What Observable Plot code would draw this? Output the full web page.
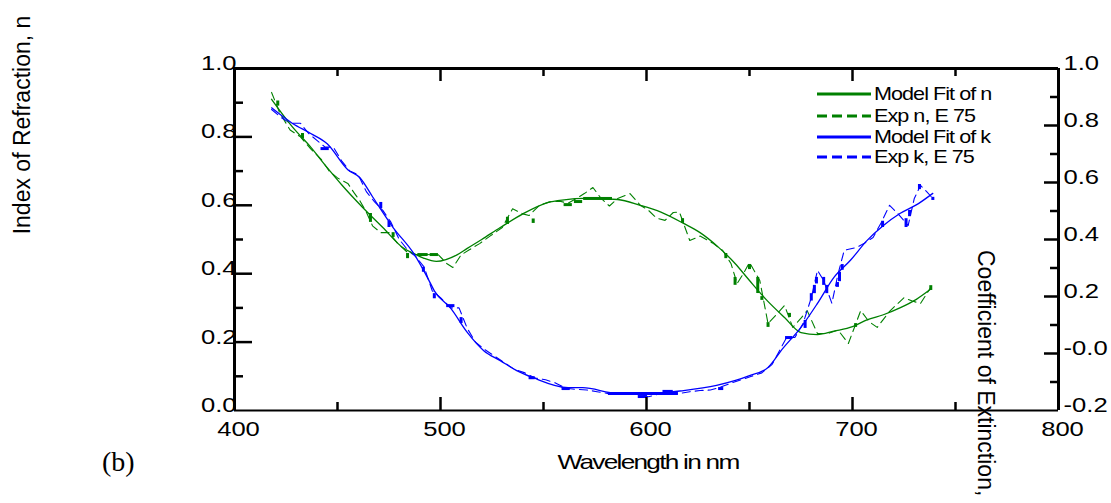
<!DOCTYPE html>
<html><head><meta charset="utf-8">
<script src="https://cdn.jsdelivr.net/npm/d3@7"></script>
<script src="https://cdn.jsdelivr.net/npm/@observablehq/plot@0.6"></script>
<style>
html,body{margin:0;padding:0;background:#fff;}
#chart{position:relative;width:1111px;height:503px;overflow:hidden;}
svg{display:block}
</style></head><body><div id="chart"></div>
<script>
// ---- Model fit of n (left axis) ----
const wlFitN = [418,428,437,445,452,462,472,482,487,492,498,508,513,520,529,540,552,560,570,586,597,607,618,626,635,643,650,658,667,675,683,691,700,707,715,723,731,738];
const nFit   = [0.91,0.83,0.77,0.71,0.66,0.595,0.535,0.475,0.459,0.445,0.436,0.455,0.474,0.50,0.535,0.575,0.608,0.616,0.62,0.617,0.60,0.58,0.547,0.52,0.477,0.43,0.38,0.325,0.272,0.228,0.222,0.232,0.245,0.265,0.28,0.30,0.325,0.355];
// ---- Experimental n, E75 ----
const wlExpN = [418,422,427,432,437,442,446,450,455,458,461,464,467,471,475,479,484,488,493,499,503,506,510,514,519,524,530,535,540,543,548,553,558,562,566,570,574,578,582,586,592,597,601,605,609,613,616,621,626,632,637,641,644,647,650,655,659,663,667,671,675,678,683,688,693,698,704,708,712,718,725,729,733,738];
const nExp   = [0.93,0.87,0.82,0.80,0.765,0.735,0.70,0.68,0.664,0.637,0.612,0.58,0.54,0.52,0.52,0.49,0.462,0.456,0.456,0.455,0.43,0.418,0.455,0.47,0.488,0.51,0.535,0.59,0.575,0.57,0.60,0.61,0.612,0.606,0.62,0.635,0.652,0.62,0.598,0.62,0.634,0.60,0.585,0.562,0.556,0.579,0.58,0.497,0.51,0.49,0.468,0.43,0.371,0.40,0.433,0.38,0.254,0.28,0.307,0.243,0.27,0.292,0.225,0.225,0.235,0.196,0.292,0.26,0.243,0.29,0.33,0.32,0.313,0.36];
// ---- Model fit of k (right axis) ----
const wlFitK = [418,428,437,445,455,461,467,477,487,494,497,505,513,521,529,537,545,562,569,586,602,618,634,650,659,666,675,683,691,699,707,715,723,732,739];
const kFit   = [0.862,0.808,0.772,0.736,0.645,0.616,0.55,0.442,0.351,0.262,0.22,0.158,0.074,0.01,-0.025,-0.06,-0.085,-0.12,-0.12,-0.14,-0.14,-0.13,-0.112,-0.078,-0.049,0.016,0.092,0.176,0.267,0.327,0.396,0.449,0.491,0.526,0.562];
// ---- Experimental k, E75 ----
const wlExpK = [418,423,427,432,436,440,444,448,452,456,460,464,468,472,476,480,484,488,492,496,500,505,509,513,517,521,526,531,536,541,546,551,556,561,566,571,576,581,586,591,596,601,606,611,616,621,626,631,636,641,646,651,656,661,665,668,672,676,680,683,686,690,693,696,702,706,710,714,718,722,727,730,733,736,739];
const kExp   = [0.856,0.826,0.808,0.808,0.772,0.748,0.724,0.724,0.676,0.64,0.628,0.568,0.532,0.502,0.46,0.40,0.364,0.34,0.304,0.22,0.196,0.16,0.16,0.088,0.04,0.016,-0.008,-0.032,-0.056,-0.068,-0.086,-0.092,-0.104,-0.122,-0.126,-0.128,-0.134,-0.14,-0.142,-0.142,-0.142,-0.152,-0.142,-0.14,-0.14,-0.134,-0.13,-0.128,-0.118,-0.104,-0.092,-0.08,-0.068,-0.038,0.016,0.056,0.056,0.105,0.196,0.292,0.256,0.176,0.28,0.362,0.372,0.388,0.407,0.46,0.52,0.491,0.449,0.544,0.59,0.568,0.544];
// ---- data-point blocks drawn on the experimental curves ----
const nBlockW  = [421,433,466,477,484,532.5,545,617.5,638.5,643,650,654,656,659,669.4,701.5,738];
const nBlockLo = [0.89,0.795,0.55,0.506,0.444,0.544,0.547,0.547,0.444,0.366,0.412,0.342,0.322,0.243,0.272,0.243,0.351];
const nBlockHi = [0.905,0.81,0.576,0.52,0.459,0.565,0.56,0.561,0.459,0.389,0.427,0.389,0.333,0.257,0.284,0.254,0.365];
const nBarW1 = [489,495,560,565,569.5];
const nBarW2 = [494,499,564,569,583.5];
const nBarV  = [0.456,0.456,0.602,0.611,0.62];
const kBlockW  = [471,475,491.7,497,510,677,680,681.5,682.5,686,687.5,692.7,693.7,695,714.6,726,727.7,732.5,739];
const kBlockLo = [0.508,0.442,0.285,0.192,0.105,0.088,0.184,0.21,0.244,0.239,0.21,0.232,0.252,0.292,0.442,0.442,0.48,0.575,0.537];
const kBlockHi = [0.53,0.464,0.302,0.21,0.126,0.116,0.21,0.239,0.267,0.267,0.239,0.249,0.285,0.312,0.464,0.473,0.502,0.593,0.548];
const kBarW1 = [442,503,543,559,581.5,596,608,635,667.5];
const kBarW2 = [446,507,546,563,615.5,600.5,613,637.5,671];
const kBarV  = [0.719,0.168,-0.085,-0.123,-0.14,-0.151,-0.133,-0.123,0.056];
// ---- axes ----
const xLabelTicks = [400,500,600,700,800];
const xMajor = [500,600,700];
const xMinor = [450,550,650,750];
const leftLabelTicks = [0,0.2,0.4,0.6,0.8,1.0];
const leftMajor = [0.2,0.4,0.6,0.8];
const leftMinor = [0.1,0.3,0.5,0.7,0.9];
const rightTicks = [1.0,0.8,0.6,0.4,0.2,0.0,-0.2];
const rightTickLabels = ["1.0","0.8","0.6","0.4","0.2","-0.0","-0.2"];
const rightMajor = [0.8,0.6,0.4,0.2,0.0];
const rightMinor = [0.9,0.7,0.5,0.3,0.1,-0.1];
const legendLabels = ["Model Fit of n","Exp n, E 75","Model Fit of k","Exp k, E 75"];

const GREEN = "#008000", BLUE = "#0000ff";
// right axis (k, -0.2..1.0) mapped onto the left axis (n, 0..1)
const toLeft = k => (k + 0.2) / 1.2;

const fitN = wlFitN.map((w,i)=>({w, v:nFit[i]}));
const expN = wlExpN.map((w,i)=>({w, v:nExp[i]}));
const fitK = wlFitK.map((w,i)=>({w, v:kFit[i]}));
const expK = wlExpK.map((w,i)=>({w, v:kExp[i]}));
const nBlocks = nBlockW.map((w,i)=>({w, lo:nBlockLo[i], hi:nBlockHi[i]}));
const nBars = nBarW1.map((w1,i)=>({w1, w2:nBarW2[i], v:nBarV[i]}));
const kBlocks = kBlockW.map((w,i)=>({w, lo:kBlockLo[i], hi:kBlockHi[i]}));
const kBars = kBarW1.map((w1,i)=>({w1, w2:kBarW2[i], v:kBarV[i]}));
const rightLabelOf = new Map(rightTicks.map((r,i)=>[toLeft(r), rightTickLabels[i]]));

const FONT = "'Liberation Sans', Arial, sans-serif";
const TICKFS = 20.5;
const plot = Plot.plot({
  width: 1111, height: 503,
  marginLeft: 234, marginRight: 53, marginTop: 68, marginBottom: 93,
  x: {domain: [400, 800], label: null},
  y: {domain: [0, 1], label: null},
  style: {fontFamily: FONT, background: "white", color: "black"},
  marks: [
    // experimental curves
    Plot.line(expN, {x:"w", y:"v", stroke: GREEN, strokeWidth: 1.1, strokeDasharray: "8,5"}),
    Plot.line(expK, {x:"w", y:d=>toLeft(d.v), stroke: BLUE, strokeWidth: 1.1, strokeDasharray: "8,5"}),
    Plot.ruleX(nBlocks, {x:"w", y1:"lo", y2:"hi", stroke: GREEN, strokeWidth: 3}),
    Plot.ruleY(nBars, {y:"v", x1:"w1", x2:"w2", stroke: GREEN, strokeWidth: 3}),
    Plot.ruleX(kBlocks, {x:"w", y1:d=>toLeft(d.lo), y2:d=>toLeft(d.hi), stroke: BLUE, strokeWidth: 3}),
    Plot.ruleY(kBars, {y:d=>toLeft(d.v), x1:"w1", x2:"w2", stroke: BLUE, strokeWidth: 3}),
    // model fits
    Plot.line(fitN, {x:"w", y:"v", stroke: GREEN, strokeWidth: 1.3, curve: "monotone-x"}),
    Plot.line(fitK, {x:"w", y:d=>toLeft(d.v), stroke: BLUE, strokeWidth: 1.3, curve: "monotone-x"}),
    // frame
    Plot.ruleY([0], {stroke:"black", strokeWidth: 2}),
    Plot.ruleY([1], {stroke:"black", strokeWidth: 3}),
    Plot.ruleX([400], {stroke:"black", strokeWidth: 3}),
    Plot.ruleX([800], {stroke:"black", strokeWidth: 3}),
    // inward ticks
    Plot.axisY({anchor:"left", ticks: leftMajor, tickSize: 18, dx: 18, tickFormat: () => "", strokeWidth: 2.5, label: null}),
    Plot.axisY({anchor:"left", ticks: leftMinor, tickSize: 9, dx: 9, tickFormat: () => "", strokeWidth: 2.5, label: null}),
    Plot.axisY({anchor:"right", ticks: rightMajor.map(toLeft), tickSize: 15, dx: -15, tickFormat: () => "", strokeWidth: 2.5, label: null}),
    Plot.axisY({anchor:"right", ticks: rightMinor.map(toLeft), tickSize: 9, dx: -9, tickFormat: () => "", strokeWidth: 2.5, label: null}),
    Plot.axisX({anchor:"bottom", ticks: xMajor, tickSize: 13, dy: -13, tickFormat: () => "", strokeWidth: 2.5, label: null}),
    Plot.axisX({anchor:"bottom", ticks: xMinor, tickSize: 8, dy: -8, tickFormat: () => "", strokeWidth: 2.5, label: null}),
    Plot.axisX({anchor:"top", ticks: xMajor, tickSize: 12, dy: 12, tickFormat: () => "", strokeWidth: 2.5, label: null}),
    Plot.axisX({anchor:"top", ticks: xMinor, tickSize: 7, dy: 7, tickFormat: () => "", strokeWidth: 2.5, label: null}),
    // tick labels
    Plot.axisY({anchor:"left", ticks: leftLabelTicks, tickSize: 0, tickPadding: 0, dx: 2, dy: -5, fontSize: TICKFS, tickFormat: d3.format(".1f"), label: null}),
    Plot.axisY({anchor:"right", ticks: rightTicks.map(toLeft), tickSize: 0, tickPadding: 0, dx: 5, dy: -5, fontSize: TICKFS, tickFormat: d => rightLabelOf.get(d), label: null}),
    Plot.axisX({anchor:"bottom", ticks: xLabelTicks, tickSize: 0, tickPadding: 11, dx: 4, fontSize: TICKFS, tickFormat: d3.format("d"), label: null})
  ]
});
document.getElementById("chart").appendChild(plot);

const svg = d3.select(plot);
// widen tick label glyphs horizontally, like the original's stretched font
svg.selectAll('g[aria-label$="tick label"] text').each(function(){
  const t = d3.select(this);
  const tr = t.attr("transform");
  if (tr) {
    t.attr("transform", tr + " scale(1.25,1)");
  } else {
    const x = +(t.attr("x") || 0), y = +(t.attr("y") || 0);
    t.attr("x", null).attr("y", null).attr("transform", `translate(${x},${y}) scale(1.25,1)`);
  }
});

svg.append("text").attr("transform","translate(30,125) rotate(-90)")
  .attr("text-anchor","middle").attr("font-family",FONT).attr("font-size",23)
  .text("Index of Refraction, n");
svg.append("text").attr("transform","translate(978,250) rotate(90)")
  .attr("text-anchor","start").attr("font-family",FONT).attr("font-size",23)
  .text("Coefficient of Extinction, k");
svg.append("text").attr("transform","translate(648,469) scale(1.25,1)")
  .attr("text-anchor","middle").attr("font-family",FONT).attr("font-size",21)
  .style("letter-spacing","-1.4px").text("Wavelength in nm");
svg.append("text").attr("x",102).attr("y",471).attr("text-anchor","start")
  .attr("font-family","'Liberation Serif', 'Times New Roman', serif").attr("font-size",28)
  .text("(b)");

// legend
const legendRows = [
  {label: legendLabels[0], color: GREEN, dash: null},
  {label: legendLabels[1], color: GREEN, dash: "10,5"},
  {label: legendLabels[2], color: BLUE, dash: null},
  {label: legendLabels[3], color: BLUE, dash: "10,5"}
];
const legendY = [94, 116, 137, 157];
const lg = svg.append("g");
legendRows.forEach((r,i)=>{
  lg.append("line").attr("x1",817).attr("x2",871).attr("y1",legendY[i]).attr("y2",legendY[i])
    .attr("stroke",r.color).attr("stroke-width",3).attr("stroke-dasharray",r.dash);
  lg.append("text").attr("transform",`translate(874,${legendY[i]}) scale(1.2,1)`).attr("dy","0.35em")
    .attr("text-anchor","start").attr("font-family",FONT).attr("font-size",18)
    .style("letter-spacing","-0.8px").text(r.label);
});
</script>
</body></html>
